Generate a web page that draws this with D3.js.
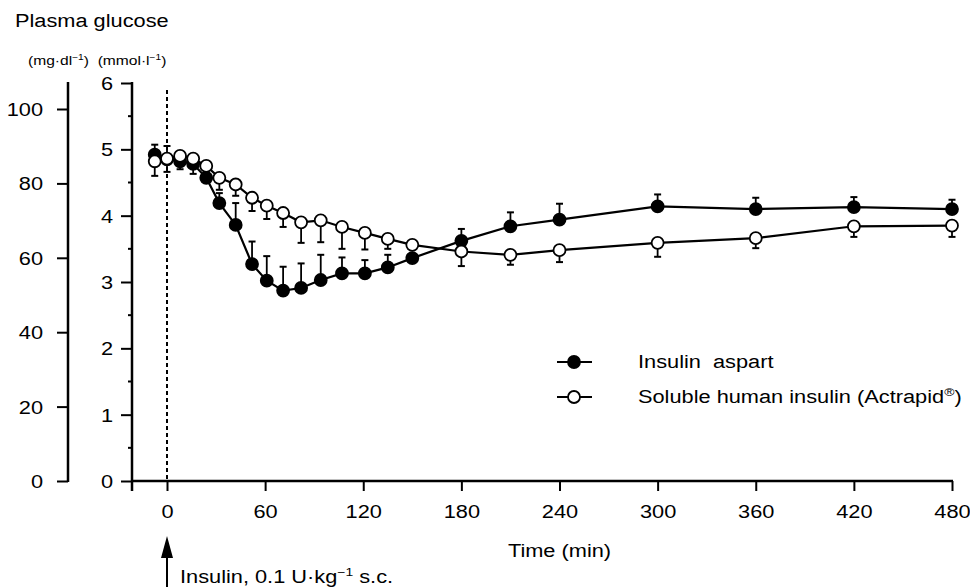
<!DOCTYPE html>
<html>
<head>
<meta charset="utf-8">
<script src="https://cdn.jsdelivr.net/npm/d3@7"></script>
<style>
  html, body { margin: 0; padding: 0; background: #fff; }
  svg text { font-family: "Liberation Sans", Arial, Helvetica, sans-serif; fill: #000; }
</style>
</head>
<body>
<svg id="chart" width="970" height="587"></svg>
<script>
// sampling times (min) and plasma glucose (mmol/l), mean and SE
const times = [-7.5, 0, 8, 16, 24, 32, 42, 52, 61, 71, 82, 94, 107, 121, 135, 150, 180, 210, 240, 300, 360, 420, 480];
const aspart = [4.92, 4.85, 4.82, 4.78, 4.57, 4.19, 3.86, 3.27, 3.02, 2.87, 2.91, 3.03, 3.13, 3.13, 3.22, 3.36, 3.62, 3.84, 3.94, 4.14, 4.10, 4.13, 4.10];
const aspartSE = [0.15, 0.2, 0.06, 0.06, 0.08, 0.15, 0.33, 0.34, 0.37, 0.36, 0.37, 0.38, 0.24, 0.2, 0.19, 0.05, 0.18, 0.21, 0.24, 0.18, 0.17, 0.15, 0.14];
const actrapid = [4.82, 4.86, 4.90, 4.86, 4.75, 4.57, 4.47, 4.27, 4.15, 4.04, 3.90, 3.93, 3.83, 3.74, 3.65, 3.56, 3.46, 3.41, 3.48, 3.59, 3.66, 3.84, 3.85];
const actrapidSE = [0.22, 0.2, 0.2, 0.23, 0.1, 0.18, 0.17, 0.2, 0.2, 0.21, 0.31, 0.33, 0.33, 0.25, 0.15, 0.06, 0.22, 0.15, 0.18, 0.21, 0.15, 0.16, 0.17];

const xTicks = [0, 60, 120, 180, 240, 300, 360, 420, 480];
const mmolTicks = [0, 1, 2, 3, 4, 5, 6];
const mmolMinor = [0.5, 1.5, 2.5, 3.5, 4.5, 5.5];
const mgTicks = [0, 20, 40, 60, 80, 100];

const svg = d3.select("#chart");
const SX = 1.21;      // original figure text is stretched horizontally
const fs = 18;

const x = d3.scaleLinear().domain([0, 480]).range([167, 952]);
const y = d3.scaleLinear().domain([0, 6]).range([481, 83]);
const yMg = d3.scaleLinear().domain([0, 100]).range([481, 109]);

function stretch(sel) {
    sel.each(function() {
        const t = d3.select(this);
        const tx = +t.attr("x") || 0;
        t.attr("x", tx / SX).attr("transform", "scale(" + SX + ",1)");
    });
}

// --- left mg/dl axis
const gMg = svg.append("g").attr("transform", "translate(68,0)")
    .call(d3.axisLeft(yMg).tickValues(mgTicks).tickSize(11).tickPadding(14).tickFormat(d3.format("d")));
gMg.select(".domain").remove();
gMg.selectAll(".tick line").attr("stroke-width", 2);
gMg.selectAll(".tick text").attr("font-size", fs).attr("dy", "0.36em").call(stretch);
gMg.append("line").attr("x1", 0).attr("x2", 0).attr("y1", y(6) - 1).attr("y2", y(0) + 1)
    .attr("stroke", "#000").attr("stroke-width", 2.5);

// --- mmol/l axis
const gMmol = svg.append("g").attr("transform", "translate(132,0)")
    .call(d3.axisLeft(y).tickValues(mmolTicks).tickSize(11).tickPadding(8).tickFormat(d3.format("d")));
gMmol.select(".domain").remove();
gMmol.selectAll(".tick line").attr("stroke-width", 2);
gMmol.selectAll(".tick text").attr("font-size", fs).attr("dy", "0.36em").call(stretch);
gMmol.selectAll(".minor").data(mmolMinor).enter().append("line")
    .attr("x1", -4).attr("x2", 0).attr("y1", d => y(d)).attr("y2", d => y(d))
    .attr("stroke", "#000").attr("stroke-width", 2);
gMmol.append("line").attr("x1", 0).attr("x2", 0).attr("y1", y(6) - 1).attr("y2", y(0) + 10)
    .attr("stroke", "#000").attr("stroke-width", 2.5);

// --- x axis
const gX = svg.append("g").attr("transform", "translate(0," + y(0) + ")")
    .call(d3.axisBottom(x).tickValues(xTicks).tickSize(10).tickPadding(14));
gX.select(".domain").remove();
gX.selectAll(".tick line").attr("stroke-width", 2);
gX.selectAll(".tick text").attr("font-size", fs).call(stretch);
gX.append("line").attr("x1", 132).attr("x2", x(480) + 1).attr("y1", 0).attr("y2", 0)
    .attr("stroke", "#000").attr("stroke-width", 2.5);

// dashed line at injection time
svg.append("line").attr("x1", x(0)).attr("x2", x(0)).attr("y1", 90).attr("y2", y(0))
    .attr("stroke", "#000").attr("stroke-width", 2).attr("stroke-dasharray", "4,3");

// --- titles
svg.append("text").attr("x", 15 / SX).attr("y", 27).attr("transform", "scale(" + SX + ",1)")
    .attr("font-size", fs).text("Plasma glucose");

const units = svg.append("text").attr("x", 28 / 1.2).attr("y", 65)
    .attr("transform", "scale(1.2,1)").attr("font-size", 13);
units.append("tspan").text("(mg·dl");
units.append("tspan").attr("dy", -5).attr("font-size", 8.5).text("−1");
units.append("tspan").attr("dy", 5).text(")\u00A0 (mmol·l");
units.append("tspan").attr("dy", -5).attr("font-size", 8.5).text("−1");
units.append("tspan").attr("dy", 5).text(")");

svg.append("text").attr("x", x(240) / SX).attr("y", 557).attr("transform", "scale(" + SX + ",1)")
    .attr("text-anchor", "middle").attr("font-size", fs).text("Time (min)");

// injection arrow
svg.append("line").attr("x1", x(0)).attr("x2", x(0)).attr("y1", 550).attr("y2", 587)
    .attr("stroke", "#000").attr("stroke-width", 2);
svg.append("path")
    .attr("d", d3.line()([[x(0), 536], [x(0) - 6, 558], [x(0) + 6, 558]]) + "Z")
    .attr("fill", "#000");
const inj = svg.append("text").attr("x", 180 / SX).attr("y", 583)
    .attr("transform", "scale(" + SX + ",1)").attr("font-size", fs);
inj.append("tspan").text("Insulin, 0.1 U·kg");
inj.append("tspan").attr("dy", -7).attr("font-size", 11.5).text("−1");
inj.append("tspan").attr("dy", 7).text(" s.c.");

// --- series
function series(vals, se, filled, dir) {
    const pts = times.map((t, i) => ({ t: t, v: vals[i], e: se[i] }));
    const g = svg.append("g");
    g.append("path").datum(pts)
        .attr("d", d3.line().x(d => x(d.t)).y(d => y(d.v)))
        .attr("fill", "none").attr("stroke", "#000").attr("stroke-width", 2.2);
    const eb = g.selectAll(".eb").data(pts).enter().append("g");
    eb.append("line").attr("x1", d => x(d.t)).attr("x2", d => x(d.t))
        .attr("y1", d => y(d.v)).attr("y2", d => y(d.v + dir * d.e))
        .attr("stroke", "#000").attr("stroke-width", 1.8);
    eb.append("line").attr("x1", d => x(d.t) - 3.5).attr("x2", d => x(d.t) + 3.5)
        .attr("y1", d => y(d.v + dir * d.e)).attr("y2", d => y(d.v + dir * d.e))
        .attr("stroke", "#000").attr("stroke-width", 2);
    g.selectAll("circle").data(pts).enter().append("circle")
        .attr("cx", d => x(d.t)).attr("cy", d => y(d.v)).attr("r", 6)
        .attr("fill", filled ? "#000" : "#fff").attr("stroke", "#000").attr("stroke-width", 1.8);
}
series(aspart, aspartSE, true, 1);
series(actrapid, actrapidSE, false, -1);

// --- legend
const legend = [
    { label: "Insulin\u00A0 aspart", filled: true, yy: 362 },
    { label: "Soluble human insulin (Actrapid", filled: false, yy: 397 }
];
const lg = svg.append("g").selectAll("g").data(legend).enter().append("g");
lg.append("line").attr("x1", 557).attr("x2", 592).attr("y1", d => d.yy).attr("y2", d => d.yy)
    .attr("stroke", "#000").attr("stroke-width", 2.2);
lg.append("circle").attr("cx", 574).attr("cy", d => d.yy).attr("r", 6)
    .attr("fill", d => d.filled ? "#000" : "#fff").attr("stroke", "#000").attr("stroke-width", 1.8);
const lt = lg.append("text").attr("x", 638 / SX).attr("y", d => d.yy + 6)
    .attr("transform", "scale(" + SX + ",1)").attr("font-size", fs);
lt.append("tspan").text(d => d.label);
lt.filter(d => !d.filled).append("tspan").attr("dy", -7).attr("font-size", 11.5).text("®");
lt.filter(d => !d.filled).append("tspan").attr("dy", 7).text(")");
</script>
</body>
</html>
